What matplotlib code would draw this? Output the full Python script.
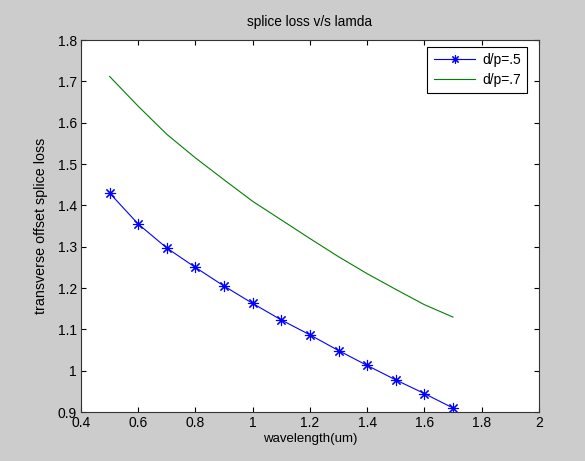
import numpy as np
import matplotlib
matplotlib.use("Agg")
import matplotlib.pyplot as plt

# wavelength (um)
wavelength = [0.5, 0.6, 0.7, 0.8, 0.9, 1.0, 1.1, 1.2, 1.3, 1.4, 1.5, 1.6, 1.7]
# transverse offset splice loss
loss_05 = [1.430, 1.355, 1.297, 1.250, 1.205, 1.163, 1.123, 1.087, 1.049, 1.013, 0.978, 0.945, 0.910]
loss_07 = [1.712, 1.640, 1.572, 1.515, 1.462, 1.410, 1.365, 1.320, 1.276, 1.235, 1.197, 1.160, 1.130]

xticks = [0.4, 0.6, 0.8, 1.0, 1.2, 1.4, 1.6, 1.8, 2.0]
xtick_labels = ["0.4", "0.6", "0.8", "1", "1.2", "1.4", "1.6", "1.8", "2"]
yticks = [0.9, 1.0, 1.1, 1.2, 1.3, 1.4, 1.5, 1.6, 1.7, 1.8]
ytick_labels = ["0.9", "1", "1.1", "1.2", "1.3", "1.4", "1.5", "1.6", "1.7", "1.8"]

plt.rcParams["font.family"] = ["Liberation Sans", "DejaVu Sans"]
plt.rcParams["font.size"] = 10

fig = plt.figure(figsize=(5.85, 4.61), dpi=100, facecolor="#cccccc")
ax = fig.add_axes([0.1385, 0.106, 0.7825, 0.807])

# MATLAB style asterisk marker (plus + cross)
ax.plot(wavelength, loss_05, color="blue", marker=(8, 2, 0), markersize=8,
        markeredgewidth=0.8, linewidth=0.8, label="d/p=.5")
ax.plot(wavelength, loss_07, color="#008000", linewidth=0.8, label="d/p=.7")

ax.set_xlim(0.4, 2)
ax.set_ylim(0.9, 1.8)
ax.set_xticks(xticks)
ax.set_xticklabels(xtick_labels)
ax.set_yticks(yticks)
ax.set_yticklabels(ytick_labels)
ax.tick_params(direction="in", top=True, right=True, length=3.6, width=0.8, pad=3)
for sp in ax.spines.values():
    sp.set_color("#333333")

ax.set_title("splice loss v/s lamda", fontsize=9.8, pad=10)
ax.set_xlabel("wavelength(um)", fontsize=9.5, labelpad=2)
ax.set_ylabel("transverse offset splice loss", fontsize=10.3, labelpad=7)

leg = ax.legend(loc="upper right", bbox_to_anchor=(0.975, 0.982), fancybox=False,
                edgecolor="black", framealpha=1, fontsize=10, handlelength=3.0,
                borderpad=0.45, labelspacing=0.4, handletextpad=0.5, borderaxespad=0)
leg.get_frame().set_linewidth(0.8)
leg.legend_handles[0].set_markersize(6)

fig.savefig("out.png", dpi=100, facecolor=fig.get_facecolor())
